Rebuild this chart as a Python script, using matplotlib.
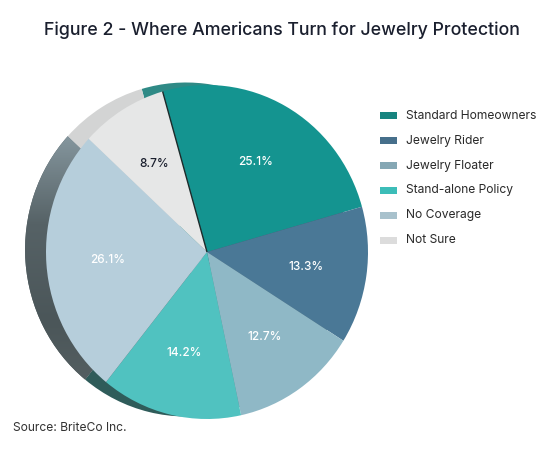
import numpy as np
import matplotlib
matplotlib.use("Agg")
import matplotlib.pyplot as plt
from matplotlib.colors import LinearSegmentedColormap
from matplotlib.patches import Rectangle

labels = ["Standard Homeowners", "Jewelry Rider", "Jewelry Floater",
          "Stand-alone Policy", "No Coverage", "Not Sure"]
shares = [25.1, 13.3, 12.7, 14.2, 26.1, 8.7]
face_colors = ["#149490", "#4a7896", "#8fb8c6", "#50c2c0", "#b6cedb", "#e6e7e7"]
side_colors = ["#2f8a86", "#3f5f72", "#6f8c96", "#2f5c5a", "#4e5b5e", "#d3d4d4"]
legend_colors = ["#17847f", "#466f8b", "#85a7b4", "#3cbdb8", "#a8c1cc", "#dcdcdc"]
pct_colors = ["white", "white", "white", "white", "white", "#1a1f2e"]

plt.rcParams["font.family"] = ["Inter", "DejaVu Sans"]

W, H = 554, 449
fig = plt.figure(figsize=(W / 100, H / 100), dpi=100)
fig.patch.set_facecolor("white")
ax = fig.add_axes([0, 0, 1, 1])

# pie centre / radii in pixels
cx, cy = 207, 252
rx, ry = 161, 167
start = 106

# side (depth) of the tilted pie, drawn as a copy shifted left
side, _ = ax.pie(shares, colors=side_colors, startangle=start, counterclock=False,
                 center=(-0.13, 0.015), radius=1.0,
                 wedgeprops=dict(linewidth=0))

# gradient on the dark side of "No Coverage"
grad = LinearSegmentedColormap.from_list("g", ["#5a6466", "#4b5659", "#566266", "#8a9ca4"])
img = ax.imshow(np.linspace(0, 1, 256).reshape(-1, 1), cmap=grad, origin="lower",
                extent=(-1.3, 0.2, -1.0, 0.75), aspect="auto", zorder=1.5)
img.set_clip_path(side[4])

wedges, _, autotexts = ax.pie(shares, colors=face_colors, startangle=start,
                              counterclock=False, autopct="%.1f%%", pctdistance=0.62,
                              wedgeprops=dict(linewidth=0),
                              textprops=dict(fontsize=8.5, fontweight="medium"))
for w in wedges:
    w.set_zorder(3)
for t, c in zip(autotexts, pct_colors):
    t.set_color(c)
    t.set_zorder(5)

# thin dark edge between "Not Sure" and "Standard Homeowners"
a = np.deg2rad(wedges[0].theta2)
ax.plot([0, np.cos(a)], [0, np.sin(a)], color="#1d2b2b", lw=1.0, zorder=4,
        solid_capstyle="butt")

ax.set_aspect("auto")
ax.set_xlim(-cx / rx, (W - cx) / rx)
ax.set_ylim(-(H - cy) / ry, cy / ry)
ax.axis("off")

# title
fig.text(282 / W, 1 - 30 / H, "Figure 2 - Where Americans Turn for Jewelry Protection",
         ha="center", va="center", fontsize=12.8, fontweight="medium", color="#1a1f2e")

# legend
for i, (lab, col) in enumerate(zip(labels, legend_colors)):
    y = 116 + i * 24.8
    fig.patches.append(Rectangle((380 / W, 1 - (y + 3.5) / H), 17 / W, 7 / H,
                                 transform=fig.transFigure, facecolor=col, edgecolor="none"))
    fig.text(406 / W, 1 - y / H, lab, ha="left", va="center", fontsize=8.7, color="#2a2a2a")

fig.text(13 / W, 1 - 428 / H, "Source: BriteCo Inc.", ha="left", va="center",
         fontsize=8.7, color="#333333")

fig.savefig("out.png", dpi=100)
